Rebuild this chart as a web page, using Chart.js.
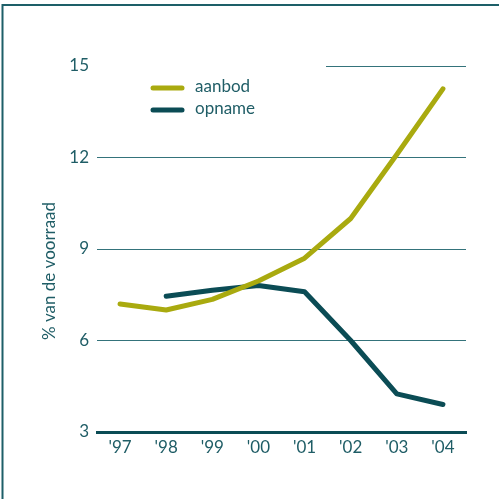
<!DOCTYPE html>
<html>
<head>
<meta charset="utf-8">
<script src="https://cdn.jsdelivr.net/npm/chart.js@4.4.0/dist/chart.umd.min.js"></script>
<style>
  html, body { margin: 0; padding: 0; background: #ffffff; }
  #wrap { width: 499px; height: 499px; }
</style>
</head>
<body>
<div id="wrap"><canvas id="c" width="499" height="499"></canvas></div>
<script>
// Jaren en reeksen (% van de voorraad)
const years = ["'97", "'98", "'99", "'00", "'01", "'02", "'03", "'04"];
const aanbod = [7.2, 7.0, 7.35, 7.95, 8.7, 10.0, 12.1, 14.25];
const opname = [null, 7.45, 7.65, 7.8, 7.6, 6.0, 4.25, 3.9];
const yMin = 3, yMax = 15, yStep = 3;
const axisTitle = '% van de voorraad';

const olive = '#a9aa0f';
const teal = '#0b4c55';
const textTeal = '#1f5d66';
const gridTeal = '#34737b';
const fontFamily = 'Lato, "Open Sans", sans-serif';
const fontSize = 17;

// Frame, y-axis title, legend and the shortened top gridline
const decorations = {
  id: 'decorations',
  beforeDraw(chart) {
    const ctx = chart.ctx;
    ctx.save();
    ctx.strokeStyle = '#1d5f68';
    ctx.lineWidth = 2;
    ctx.beginPath();
    ctx.moveTo(2.5, chart.height);
    ctx.lineTo(2.5, 5);
    ctx.lineTo(chart.width, 5);
    ctx.stroke();
    ctx.restore();
  },
  beforeDatasetsDraw(chart, args, opts) {
    const ctx = chart.ctx;
    const y = chart.scales.y;
    const area = chart.chartArea;
    const py = Math.round(y.getPixelForValue(yMax)) + 0.5;
    ctx.save();
    ctx.strokeStyle = gridTeal;
    ctx.lineWidth = 1;
    ctx.beginPath();
    ctx.moveTo(opts.topLineStart, py);
    ctx.lineTo(area.right, py);
    ctx.stroke();
    ctx.restore();
  },
  afterDraw(chart, args, opts) {
    const ctx = chart.ctx;
    ctx.save();
    // y-axis title
    ctx.translate(opts.titleX, opts.titleY);
    ctx.rotate(-Math.PI / 2);
    ctx.fillStyle = textTeal;
    ctx.font = fontSize + 'px ' + fontFamily;
    ctx.textAlign = 'center';
    ctx.textBaseline = 'middle';
    ctx.fillText(axisTitle, 0, 0);
    ctx.restore();

    // legend
    ctx.save();
    chart.data.datasets.forEach((ds, i) => {
      const ly = opts.legendY + i * opts.legendGap;
      ctx.strokeStyle = ds.borderColor;
      ctx.lineWidth = 5;
      ctx.lineCap = 'round';
      ctx.beginPath();
      ctx.moveTo(opts.legendX, ly);
      ctx.lineTo(opts.legendX + 29, ly);
      ctx.stroke();
      ctx.fillStyle = textTeal;
      ctx.font = fontSize + 'px ' + fontFamily;
      ctx.textAlign = 'left';
      ctx.textBaseline = 'middle';
      ctx.fillText(ds.label, opts.legendX + 42, ly - 1);
    });
    ctx.restore();
  }
};

new Chart(document.getElementById('c'), {
  type: 'line',
  data: {
    labels: years,
    datasets: [
      { label: 'aanbod', data: aanbod, borderColor: olive, backgroundColor: olive },
      { label: 'opname', data: opname, borderColor: teal, backgroundColor: teal }
    ]
  },
  options: {
    responsive: false,
    devicePixelRatio: 1,
    animation: false,
    layout: { padding: { left: 0, right: 33, top: 66, bottom: 0 } },
    elements: {
      line: { borderWidth: 5, tension: 0, borderCapStyle: 'round', borderJoinStyle: 'round' },
      point: { radius: 0, hoverRadius: 0 }
    },
    plugins: {
      legend: { display: false },
      tooltip: { enabled: false },
      decorations: {
        topLineStart: 326,
        titleX: 50, titleY: 271,
        legendX: 153, legendY: 88, legendGap: 22
      }
    },
    scales: {
      x: {
        offset: true,
        grid: { display: false, drawTicks: false },
        border: { display: true, color: teal, width: 3 },
        ticks: { color: textTeal, font: { family: fontFamily, size: fontSize }, padding: 5, maxRotation: 0 },
        afterFit(scale) { scale.height = 67; }
      },
      y: {
        min: yMin, max: yMax,
        grid: {
          drawTicks: false,
          lineWidth: 1,
          color: c => (c.tick && (c.tick.value === yMax || c.tick.value === yMin)) ? 'rgba(0,0,0,0)' : gridTeal
        },
        border: { display: false },
        ticks: { stepSize: yStep, color: textTeal, font: { family: fontFamily, size: fontSize }, padding: 8 },
        afterFit(scale) { scale.width = 97; }
      }
    }
  },
  plugins: [decorations]
});
</script>
</body>
</html>
